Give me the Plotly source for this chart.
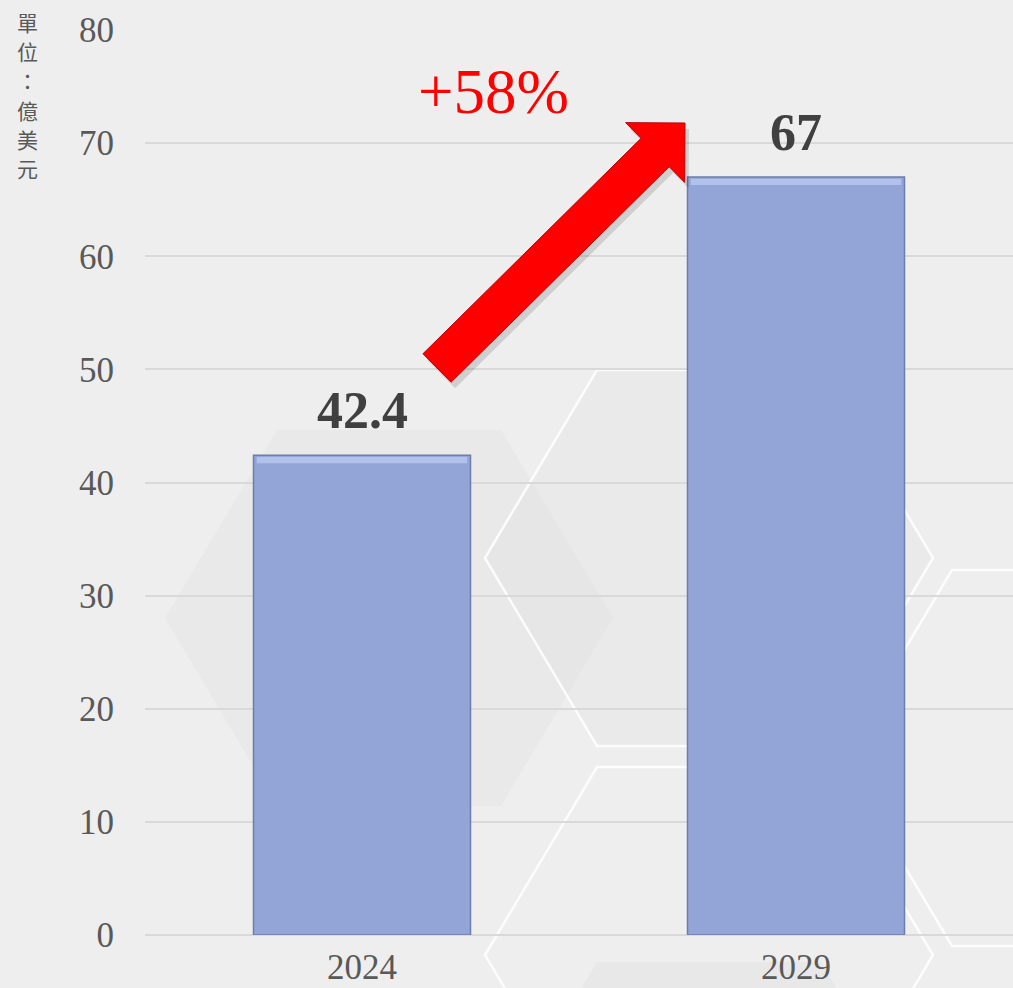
import math
import plotly.graph_objects as go

# ---- data ----
years = ["2024", "2029"]
values = [42.4, 67]
value_labels = ["42.4", "67"]
growth_label = "+58%"
unit_title = "單位：億美元"
y_ticks = [0, 10, 20, 30, 40, 50, 60, 70, 80]

# ---- layout geometry ----
W, H = 1013, 988
ML, MR, MT, MB = 145, 0, 30, 53
PW, PH = W - ML - MR, H - MT - MB


def to_paper(px, py):
    return (px - ML) / PW, (H - MB - py) / PH


def path_from_px(points):
    pts = [to_paper(x, y) for x, y in points]
    return "M " + " L ".join(f"{x:.5f},{y:.5f}" for x, y in pts) + " Z"


def hexagon(cx, cy, hw=224, hh=188, ti=112):
    return [(cx - hw, cy), (cx - ti, cy - hh), (cx + ti, cy - hh),
            (cx + hw, cy), (cx + ti, cy + hh), (cx - ti, cy + hh)]


shapes = []
# soft gray filled hexagons (background decoration)
for cx, cy, col in [(389, 618, "rgba(200,200,200,0.10)"),
                    (709, 1150, "rgba(200,200,200,0.14)"),
                    (709, 558, "rgba(210,210,210,0.10)")]:
    shapes.append(dict(type="path", path=path_from_px(hexagon(cx, cy)),
                       xref="paper", yref="paper", fillcolor=col,
                       line=dict(width=0), layer="below"))
# white outlined hexagons
for cx, cy in [(709, 558), (709, 955), (1064, 758)]:
    shapes.append(dict(type="path", path=path_from_px(hexagon(cx, cy)),
                       xref="paper", yref="paper", fillcolor="rgba(0,0,0,0)",
                       line=dict(color="rgba(255,255,255,0.85)", width=2.5),
                       layer="below"))

# ---- arrow (decoration) ----
T = (437, 368)
P = (685, 123)
dx, dy = P[0] - T[0], P[1] - T[1]
L = math.hypot(dx, dy)
ux, uy = dx / L, dy / L
nx, ny = -uy, ux
w, hw, hl = 20, 42, 42
B = (P[0] - ux * hl, P[1] - uy * hl)
arrow = [
    (T[0] + nx * w, T[1] + ny * w),
    (B[0] + nx * w, B[1] + ny * w),
    (B[0] + nx * hw, B[1] + ny * hw),
    P,
    (B[0] - nx * hw, B[1] - ny * hw),
    (B[0] - nx * w, B[1] - ny * w),
    (T[0] - nx * w, T[1] - ny * w),
]
shadow = [(x + 4, y + 6) for x, y in arrow]
shapes.append(dict(type="path", path=path_from_px(shadow), xref="paper", yref="paper",
                   fillcolor="rgba(0,0,0,0.13)", line=dict(width=0), layer="above"))
shapes.append(dict(type="path", path=path_from_px(arrow), xref="paper", yref="paper",
                   fillcolor="#FF0000", line=dict(color="#C00000", width=1), layer="above"))

fig = go.Figure()
fig.add_trace(go.Bar(
    x=years, y=values, width=0.5,
    marker=dict(color="#93A5D6", line=dict(color="#6E7DAA", width=1.5)),
    hoverinfo="x+y", showlegend=False,
))
# bevel highlight just under the top edge of each bar
fig.add_trace(go.Bar(
    x=years, y=[0.55] * len(values), base=[v - 0.7 for v in values], width=0.485,
    marker=dict(color="#B1C1EB", line=dict(width=0)),
    hoverinfo="skip", showlegend=False,
))

annotations = []
for i, (v, lab) in enumerate(zip(values, value_labels)):
    annotations.append(dict(x=i, y=v, xref="x", yref="y", text=lab, showarrow=False,
                            yanchor="bottom", yshift=14,
                            font=dict(family="Liberation Serif", size=52, color="#404040",
                                      weight="bold")))

gx, gy = to_paper(493, 92)
annotations.append(dict(x=gx, y=gy, xref="paper", yref="paper", text=growth_label,
                        showarrow=False, xanchor="center", yanchor="middle",
                        font=dict(family="Liberation Serif", size=63, color="#FF0000")))

for k, ch in enumerate(unit_title):
    tx, ty = to_paper(27, 22 + 29.2 * k)
    annotations.append(dict(x=tx, y=ty, xref="paper", yref="paper", text=ch,
                            showarrow=False, xanchor="center", yanchor="middle",
                            borderpad=0,
                            font=dict(family="Noto Sans CJK TC", size=21, color="#595959")))

fig.update_layout(
    width=W, height=H,
    margin=dict(l=ML, r=MR, t=MT, b=MB),
    paper_bgcolor="#EEEEEE",
    plot_bgcolor="rgba(0,0,0,0)",
    barmode="overlay",
    shapes=shapes,
    annotations=annotations,
    xaxis=dict(type="category", range=[-0.5, len(years) - 0.5], showgrid=False,
               zeroline=False, showline=False, ticks="", ticklabelstandoff=8,
               tickfont=dict(family="Liberation Serif", size=35, color="#595959")),
    yaxis=dict(range=[0, 80], tickvals=y_ticks, showgrid=True, gridcolor="#D9D9D9",
               gridwidth=1.5, zeroline=True, zerolinecolor="#D9D9D9", zerolinewidth=1.5,
               showline=False, ticks="", ticklabelstandoff=30,
               tickfont=dict(family="Liberation Serif", size=35, color="#595959")),
    font=dict(family="Liberation Serif"),
)

fig.write_html("out.html", config={"displayModeBar": False},
               post_script="document.body.style.margin='0';document.body.style.overflow='hidden';")
